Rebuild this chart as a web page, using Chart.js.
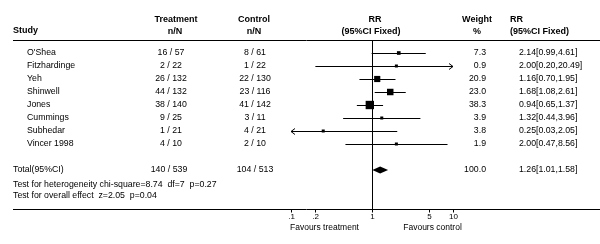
<!doctype html>
<html lang="en">
  <head>
    <meta charset="utf-8" />
    <title>Forest plot</title>
    <style>
      html,
      body {
        margin: 0;
        padding: 0;
        background: #fff;
      }
      #wrap {
        position: relative;
        width: 600px;
        height: 244px;
      }
    </style>
    <script src="https://cdn.jsdelivr.net/npm/chart.js@4.4.1/dist/chart.umd.min.js"></script>
  </head>
  <body>
    <div id="wrap"><canvas id="forest" width="600" height="244"></canvas></div>
    <script>
      // study data
      const studies = ["O'Shea", "Fitzhardinge", "Yeh", "Shinwell", "Jones", "Cummings", "Subhedar", "Vincer 1998"];
      const treatEvents = [16, 2, 26, 44, 38, 9, 1, 4];
      const treatTotal = [57, 22, 132, 132, 140, 25, 21, 10];
      const ctrlEvents = [8, 1, 22, 23, 41, 3, 4, 2];
      const ctrlTotal = [61, 22, 130, 116, 142, 11, 21, 10];
      const rr = [2.14, 2.0, 1.16, 1.68, 0.94, 1.32, 0.25, 2.0];
      const rrLow = [0.99, 0.2, 0.7, 1.08, 0.65, 0.44, 0.03, 0.47];
      const rrHigh = [4.61, 20.49, 1.95, 2.61, 1.37, 3.96, 2.05, 8.56];
      const weights = [7.3, 0.9, 20.9, 23.0, 38.3, 3.9, 3.8, 1.9];

      // pooled result
      const totalLabel = "Total(95%CI)";
      const totalTreat = [140, 539];
      const totalCtrl = [104, 513];
      const pooled = [1.26, 1.01, 1.58];
      const totalWeight = 100.0;
      const heteroText = "Test for heterogeneity chi-square=8.74  df=7  p=0.27";
      const effectText = "Test for overall effect  z=2.05  p=0.04";

      // axis
      const xTicks = [0.1, 0.2, 1, 5, 10];
      const xTickLabels = [".1", ".2", "1", "5", "10"];
      const favours = ["Favours treatment", "Favours control"];

      const FONT = '"Liberation Sans", Arial, sans-serif';
      const totalRow = studies.length + 2;

      const fix2 = (v) => v.toFixed(2);

      const forestPlugin = {
        id: "forest",
        beforeDatasetsDraw(chart) {
          const { ctx, chartArea } = chart;
          const xs = chart.scales.x;
          const ys = chart.scales.y;
          const xMin = xs.min;
          const xMax = xs.max;
          ctx.save();
          ctx.strokeStyle = "#000";
          ctx.fillStyle = "#000";
          ctx.lineWidth = 1;

          // line of no effect
          const x1 = Math.round(xs.getPixelForValue(1)) + 0.5;
          ctx.beginPath();
          ctx.moveTo(x1, chartArea.top);
          ctx.lineTo(x1, chartArea.bottom);
          ctx.stroke();

          // confidence intervals
          studies.forEach((s, i) => {
            const y = Math.round(ys.getPixelForValue(i + 1)) + 0.5;
            const a = xs.getPixelForValue(Math.max(rrLow[i], xMin));
            const b = xs.getPixelForValue(Math.min(rrHigh[i], xMax));
            ctx.beginPath();
            ctx.moveTo(a, y);
            ctx.lineTo(b, y);
            if (rrHigh[i] > xMax) {
              ctx.moveTo(b - 4, y - 3);
              ctx.lineTo(b, y);
              ctx.lineTo(b - 4, y + 3);
            }
            if (rrLow[i] < xMin) {
              ctx.moveTo(a + 4, y - 3);
              ctx.lineTo(a, y);
              ctx.lineTo(a + 4, y + 3);
            }
            ctx.stroke();
          });

          // pooled diamond
          const yt = ys.getPixelForValue(totalRow);
          ctx.beginPath();
          ctx.moveTo(xs.getPixelForValue(pooled[1]), yt);
          ctx.lineTo(xs.getPixelForValue(pooled[0]), yt - 3.5);
          ctx.lineTo(xs.getPixelForValue(pooled[2]), yt);
          ctx.lineTo(xs.getPixelForValue(pooled[0]), yt + 3.5);
          ctx.closePath();
          ctx.fill();
          ctx.restore();
        },
        afterDraw(chart) {
          const { ctx, chartArea } = chart;
          const xs = chart.scales.x;
          const ys = chart.scales.y;
          const rowY = (r) => ys.getPixelForValue(r);
          ctx.save();
          ctx.fillStyle = "#000";
          ctx.strokeStyle = "#000";
          ctx.textBaseline = "middle";

          // header
          ctx.font = "bold 9px " + FONT;
          ctx.textAlign = "left";
          ctx.fillText("Study", 13, 31);
          ctx.textAlign = "center";
          ctx.fillText("Treatment", 176, 20);
          ctx.fillText("n/N", 175, 32);
          ctx.fillText("Control", 254, 20);
          ctx.fillText("n/N", 254, 32);
          ctx.fillText("RR", 375, 20);
          ctx.fillText("(95%CI Fixed)", 371, 32);
          ctx.fillText("Weight", 477, 20);
          ctx.fillText("%", 477, 32);
          ctx.textAlign = "left";
          ctx.fillText("RR", 510, 20);
          ctx.fillText("(95%CI Fixed)", 510, 32);

          // rule under header and at the axis
          ctx.lineWidth = 1;
          ctx.beginPath();
          ctx.moveTo(13, Math.round(chartArea.top) + 0.5);
          ctx.lineTo(600, Math.round(chartArea.top) + 0.5);
          ctx.moveTo(13, Math.round(chartArea.bottom) + 0.5);
          ctx.lineTo(600, Math.round(chartArea.bottom) + 0.5);
          ctx.stroke();

          // study rows
          ctx.font = "8.75px " + FONT;
          studies.forEach((s, i) => {
            const y = rowY(i + 1);
            ctx.textAlign = "left";
            ctx.fillText(s, 27, y);
            ctx.textAlign = "center";
            ctx.fillText(treatEvents[i] + " / " + treatTotal[i], 171, y);
            ctx.fillText(ctrlEvents[i] + " / " + ctrlTotal[i], 255, y);
            ctx.textAlign = "right";
            ctx.fillText(weights[i].toFixed(1), 486, y);
            ctx.textAlign = "left";
            ctx.fillText(fix2(rr[i]) + "[" + fix2(rrLow[i]) + "," + fix2(rrHigh[i]) + "]", 519, y);
          });

          // total row
          const yt = rowY(totalRow);
          ctx.textAlign = "left";
          ctx.fillText(totalLabel, 13, yt);
          ctx.textAlign = "center";
          ctx.fillText(totalTreat[0] + " / " + totalTreat[1], 169, yt);
          ctx.fillText(totalCtrl[0] + " / " + totalCtrl[1], 255, yt);
          ctx.textAlign = "right";
          ctx.fillText(totalWeight.toFixed(1), 486, yt);
          ctx.textAlign = "left";
          ctx.fillText(fix2(pooled[0]) + "[" + fix2(pooled[1]) + "," + fix2(pooled[2]) + "]", 519, yt);
          ctx.fillText(heteroText, 13, rowY(totalRow + 1.1));
          ctx.fillText(effectText, 13, rowY(totalRow + 2));

          // x axis ticks and labels
          const yb = Math.round(chartArea.bottom) + 0.5;
          ctx.font = "8px " + FONT;
          ctx.textAlign = "center";
          xTicks.forEach((t, i) => {
            const x = Math.round(xs.getPixelForValue(t)) + 0.5;
            ctx.beginPath();
            ctx.moveTo(x, yb);
            ctx.lineTo(x, yb + 3);
            ctx.stroke();
            ctx.fillText(xTickLabels[i], x, yb + 7);
          });
          ctx.font = "8.5px " + FONT;
          ctx.textAlign = "left";
          ctx.fillText(favours[0], xs.getPixelForValue(0.1) - 1, yb + 18);
          ctx.fillText(favours[1], xs.getPixelForValue(2.5) - 1, yb + 18);
          ctx.restore();
        }
      };

      const points = studies.map((s, i) => ({ x: rr[i], y: i + 1 }));
      // square side grows with study weight
      const radii = weights.map((w) => Math.max(3, 1.35 * Math.sqrt(w)) / Math.SQRT2);

      new Chart(document.getElementById("forest"), {
        type: "scatter",
        data: {
          datasets: [
            {
              data: points,
              pointStyle: "rect",
              pointRadius: radii,
              pointBackgroundColor: "#000",
              pointBorderColor: "#000",
              pointBorderWidth: 0
            }
          ]
        },
        options: {
          responsive: false,
          animation: false,
          events: [],
          layout: {
            padding: { left: 291, right: 147, top: 40, bottom: 35 }
          },
          scales: {
            x: { type: "logarithmic", min: 0.1, max: 10, display: false },
            y: { type: "linear", min: 0, max: 13, reverse: true, display: false }
          },
          plugins: {
            legend: { display: false },
            tooltip: { enabled: false }
          }
        },
        plugins: [forestPlugin]
      });
    </script>
  </body>
</html>
